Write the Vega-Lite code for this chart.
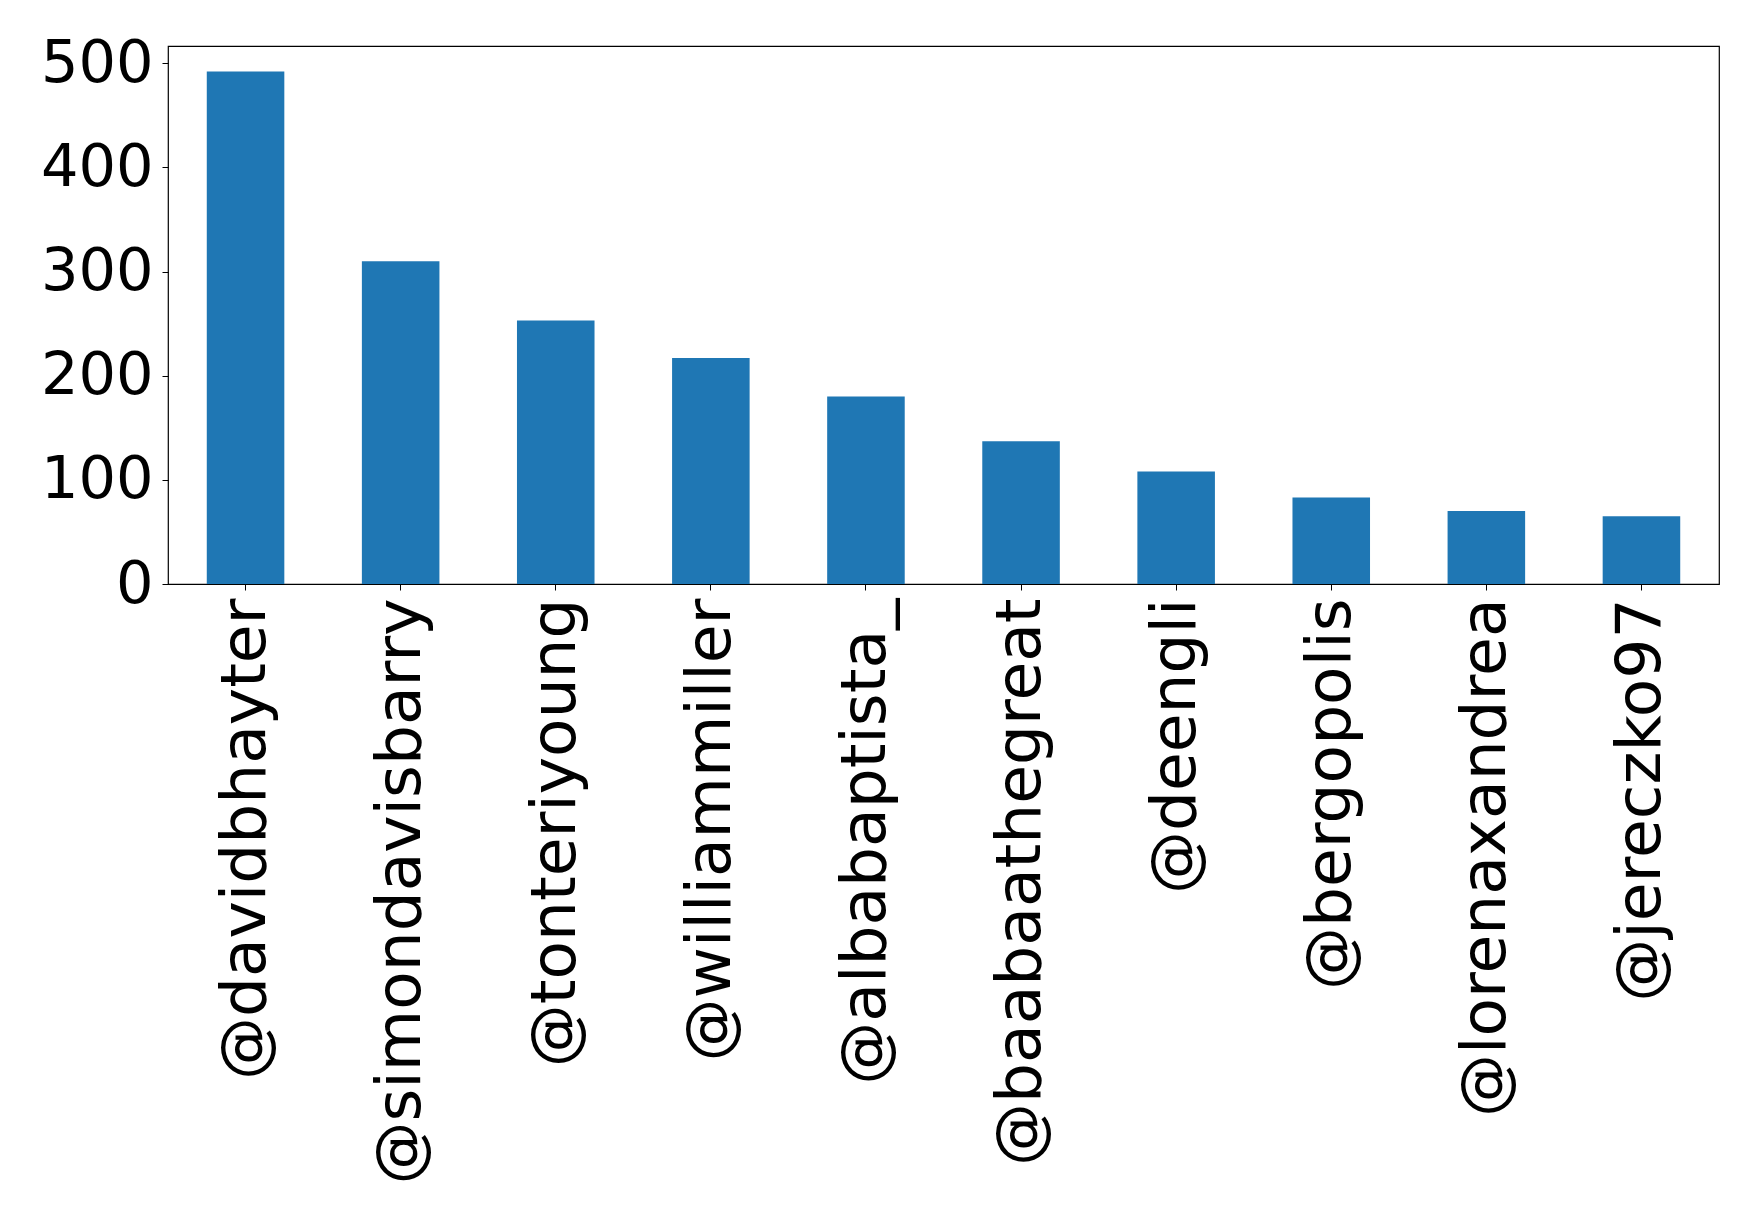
{
  "$schema": "https://vega.github.io/schema/vega-lite/v6.json",
  "autosize": "none",
  "width": 1551,
  "height": 538,
  "padding": {"left": 168, "top": 46, "right": 40, "bottom": 631},
  "background": "white",
  "config": {
    "font": "DejaVu Sans",
    "view": {"stroke": "black", "strokeWidth": 1.2},
    "axis": {"grid": false, "domainColor": "black", "tickColor": "black", "labelColor": "black", "labelFont": "DejaVu Sans", "labelFontSize": 59, "labelLimit": 0, "tickSize": 6, "labelPadding": 9, "title": null}
  },
  "data": {
    "values": [
      {"user": "@davidbhayter", "count": 492},
      {"user": "@simondavisbarry", "count": 310},
      {"user": "@tonteriyoung", "count": 253},
      {"user": "@williammiller", "count": 217},
      {"user": "@albabaptista_", "count": 180},
      {"user": "@baabaathegreat", "count": 137},
      {"user": "@deengli", "count": 108},
      {"user": "@bergopolis", "count": 83},
      {"user": "@lorenaxandrea", "count": 70},
      {"user": "@jereczko97", "count": 65}
    ]
  },
  "mark": {"type": "bar", "color": "#1f77b4"},
  "encoding": {
    "x": {"field": "user", "type": "nominal", "sort": null,
      "scale": {"paddingInner": 0.5, "paddingOuter": 0.25},
      "axis": {"labelAngle": -90, "labelAlign": "right", "labelBaseline": "middle", "domain": false, "labelFontSize": 63, "labelPadding": 8}},
    "y": {"field": "count", "type": "quantitative",
      "scale": {"domain": [0, 516.6], "nice": false, "zero": true},
      "axis": {"values": [0, 100, 200, 300, 400, 500], "domain": false}}
  }
}
